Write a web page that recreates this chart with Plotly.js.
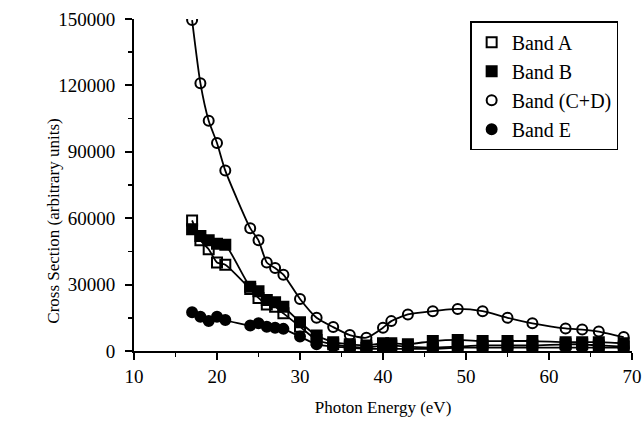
<!DOCTYPE html>
<html>
<head>
<meta charset="utf-8">
<script src="https://cdn.plot.ly/plotly-3.0.1.min.js"></script>
<style>html,body{margin:0;padding:0;background:#fff;}#chart{width:644px;height:422px;}</style>
</head>
<body>
<div id="chart"></div>
<script>
var energy = [17,18,19,20,21,24,25,26,27,28,30,32,34,36,38,40,41,43,46,49,52,55,58,62,64,66,69];
var bandA  = [59000,50000,46000,40000,39000,28000,24000,21000,20000,17000,11000,5000,3000,2000,1500,2500,2500,2000,1500,2000,2500,2500,2500,3000,3000,2500,2000];
var bandB  = [55000,52000,50000,48500,48000,29000,27000,23000,22000,20000,13000,7000,4000,3000,2500,3500,3500,3000,4500,5000,4500,4500,4500,4000,4000,4000,3500];
var bandCD = [149500,121000,104000,94000,81500,55500,50000,40000,37500,34500,23500,15000,10800,7200,6000,10500,13500,16500,18000,19000,18000,15000,12500,10200,9700,8800,6300];
var bandE  = [17500,15500,13500,15500,14000,11500,12500,11000,10500,10000,6500,3000,2000,1500,1000,1000,1000,1000,1000,1500,1500,1500,1500,1500,1500,1500,1500];
var names = ['Band A','Band B','Band (C+D)','Band E'];
var symbols = ['square-open','square','circle-open','circle'];
var series = [bandA, bandB, bandCD, bandE];
var xTitle = 'Photon Energy (eV)';
var yTitle = 'Cross Section (arbitrary units)';

var traces = [];
series.forEach(function(s, i){
  traces.push({x: energy, y: s, mode: 'lines', type: 'scatter', showlegend: false,
    line: {color: '#000', width: 1.8, shape: 'spline', smoothing: 0.6}, hoverinfo: 'skip'});
});
series.forEach(function(s, i){
  traces.push({x: energy, y: s, mode: 'markers', type: 'scatter', name: names[i],
    legendgroup: 'g' + i,
    marker: {symbol: symbols[i], size: 10, color: '#000', line: {color: '#000', width: 2}}});
});

var FAM = "'Liberation Serif', 'Times New Roman', Times, serif";
function f(sz){ return {family: FAM, size: sz, color: '#000'}; }
var layout = {
  width: 644, height: 422,
  font: f(17),
  margin: {l: 134, r: 12, t: 19, b: 71},
  paper_bgcolor: '#fff', plot_bgcolor: '#fff',
  showlegend: true,
  legend: {x: 0.675, y: 0.993, xanchor: 'left', yanchor: 'top',
    bgcolor: '#fff', bordercolor: '#000', borderwidth: 1.5,
    font: f(20), tracegroupgap: 0},
  xaxis: {range: [10, 70], dtick: 10, tick0: 10, showgrid: false, zeroline: false,
    showline: true, linecolor: '#000', linewidth: 2, ticks: 'outside', ticklen: 7,
    tickwidth: 2, tickcolor: '#000', tickfont: f(19),
    minor: {dtick: 5, ticks: 'outside', ticklen: 4, tickwidth: 1.5, tickcolor: '#000'},
    title: {text: xTitle, font: f(17), standoff: 15}},
  yaxis: {range: [0, 150000], dtick: 30000, showgrid: false, zeroline: false,
    showline: true, linecolor: '#000', linewidth: 2, ticks: 'outside', ticklen: 7,
    tickwidth: 2, tickcolor: '#000', tickformat: 'd', tickfont: f(19), ticklabelstandoff: 6,
    minor: {dtick: 15000, ticks: 'outside', ticklen: 4, tickwidth: 1.5, tickcolor: '#000'}},
  annotations: [{text: yTitle, xref: 'paper', yref: 'paper', x: -0.161, y: 0.392,
    xanchor: 'center', yanchor: 'middle', textangle: -90, showarrow: false, font: f(17)}]
};
Plotly.newPlot('chart', traces, layout, {displayModeBar: false, staticPlot: true});
</script>
</body>
</html>
